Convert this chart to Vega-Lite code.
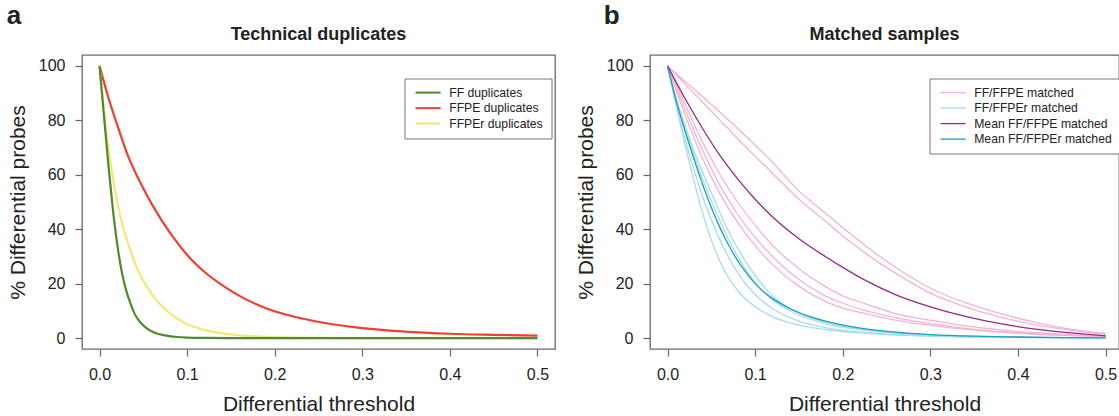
{
  "$schema": "https://vega.github.io/schema/vega-lite/v6.json",
  "padding": {"left": 6, "top": 3, "right": 0, "bottom": 0},
  "background": "white",
  "config": {
    "font": "Liberation Sans",
    "view": {"stroke": "#6b6b6b", "strokeWidth": 1.3},
    "axis": {"grid": false, "domain": false, "tickColor": "#666", "tickSize": 7, "tickWidth": 1.2, "labelFontSize": 16, "labelColor": "#222", "titleFontSize": 21, "titleFontWeight": "normal", "titleColor": "#222"},
    "axisX": {"labelPadding": 10, "titlePadding": 11},
    "axisY": {"labelPadding": 10, "titlePadding": 10},
    "title": {"fontSize": 18, "fontWeight": "bold", "color": "#222", "offset": 11},
    "legend": {"orient": "none", "labelFontSize": 12.2, "labelColor": "#222", "strokeColor": "#777", "fillColor": "#ffffff", "padding": 8, "symbolType": "M-2.5,0H2.5", "symbolSize": 100, "symbolOffset": 9.5, "labelOffset": 15, "rowPadding": 2.5}
  },
  "datasets": {
    "tech": [
      {"s": "FFPE duplicates", "x": 0, "y": 100}, {"s": "FFPE duplicates", "x": 0.01, "y": 88.5}, {"s": "FFPE duplicates", "x": 0.02, "y": 78.5}, {"s": "FFPE duplicates", "x": 0.0324, "y": 67}, {"s": "FFPE duplicates", "x": 0.05, "y": 55}, {"s": "FFPE duplicates", "x": 0.0704, "y": 43.5}, {"s": "FFPE duplicates", "x": 0.09, "y": 34.5}, {"s": "FFPE duplicates", "x": 0.105, "y": 28.8}, {"s": "FFPE duplicates", "x": 0.12, "y": 24.3}, {"s": "FFPE duplicates", "x": 0.143, "y": 18.8}, {"s": "FFPE duplicates", "x": 0.165, "y": 14.6}, {"s": "FFPE duplicates", "x": 0.19, "y": 11}, {"s": "FFPE duplicates", "x": 0.23, "y": 7.3}, {"s": "FFPE duplicates", "x": 0.268, "y": 5}, {"s": "FFPE duplicates", "x": 0.3, "y": 3.7}, {"s": "FFPE duplicates", "x": 0.345, "y": 2.5}, {"s": "FFPE duplicates", "x": 0.4, "y": 1.6}, {"s": "FFPE duplicates", "x": 0.45, "y": 1.2}, {"s": "FFPE duplicates", "x": 0.5, "y": 0.9},
      {"s": "FFPEr duplicates", "x": 0, "y": 100}, {"s": "FFPEr duplicates", "x": 0.004, "y": 86.5}, {"s": "FFPEr duplicates", "x": 0.008, "y": 75}, {"s": "FFPEr duplicates", "x": 0.012, "y": 65.5}, {"s": "FFPEr duplicates", "x": 0.016, "y": 57.5}, {"s": "FFPEr duplicates", "x": 0.02, "y": 50.5}, {"s": "FFPEr duplicates", "x": 0.0247, "y": 43.5}, {"s": "FFPEr duplicates", "x": 0.03, "y": 37.5}, {"s": "FFPEr duplicates", "x": 0.036, "y": 31.5}, {"s": "FFPEr duplicates", "x": 0.0437, "y": 25}, {"s": "FFPEr duplicates", "x": 0.052, "y": 20}, {"s": "FFPEr duplicates", "x": 0.06, "y": 16}, {"s": "FFPEr duplicates", "x": 0.0704, "y": 12}, {"s": "FFPEr duplicates", "x": 0.083, "y": 8.4}, {"s": "FFPEr duplicates", "x": 0.097, "y": 5.6}, {"s": "FFPEr duplicates", "x": 0.115, "y": 3.4}, {"s": "FFPEr duplicates", "x": 0.135, "y": 2}, {"s": "FFPEr duplicates", "x": 0.16, "y": 1}, {"s": "FFPEr duplicates", "x": 0.19, "y": 0.45}, {"s": "FFPEr duplicates", "x": 0.22, "y": 0.2}, {"s": "FFPEr duplicates", "x": 0.26, "y": 0.08}, {"s": "FFPEr duplicates", "x": 0.3, "y": 0.03}, {"s": "FFPEr duplicates", "x": 0.4, "y": 0.01}, {"s": "FFPEr duplicates", "x": 0.5, "y": 0},
      {"s": "FF duplicates", "x": 0, "y": 100}, {"s": "FF duplicates", "x": 0.005, "y": 82}, {"s": "FF duplicates", "x": 0.01, "y": 64}, {"s": "FF duplicates", "x": 0.015, "y": 48}, {"s": "FF duplicates", "x": 0.02, "y": 35}, {"s": "FF duplicates", "x": 0.025, "y": 25}, {"s": "FF duplicates", "x": 0.03, "y": 18}, {"s": "FF duplicates", "x": 0.035, "y": 13}, {"s": "FF duplicates", "x": 0.04, "y": 9}, {"s": "FF duplicates", "x": 0.046, "y": 6}, {"s": "FF duplicates", "x": 0.054, "y": 3.6}, {"s": "FF duplicates", "x": 0.063, "y": 2}, {"s": "FF duplicates", "x": 0.075, "y": 1}, {"s": "FF duplicates", "x": 0.089, "y": 0.4}, {"s": "FF duplicates", "x": 0.1, "y": 0.2}, {"s": "FF duplicates", "x": 0.12, "y": 0.08}, {"s": "FF duplicates", "x": 0.15, "y": 0.03}, {"s": "FF duplicates", "x": 0.2, "y": 0.01}, {"s": "FF duplicates", "x": 0.3, "y": 0}, {"s": "FF duplicates", "x": 0.5, "y": 0}
    ],
    "matched": [
      {"s": "FF/FFPE matched", "id": "p1", "x": 0, "y": 100}, {"s": "FF/FFPE matched", "id": "p1", "x": 0.03, "y": 91.5}, {"s": "FF/FFPE matched", "id": "p1", "x": 0.06, "y": 83}, {"s": "FF/FFPE matched", "id": "p1", "x": 0.09, "y": 74}, {"s": "FF/FFPE matched", "id": "p1", "x": 0.12, "y": 64.5}, {"s": "FF/FFPE matched", "id": "p1", "x": 0.15, "y": 54}, {"s": "FF/FFPE matched", "id": "p1", "x": 0.18, "y": 46}, {"s": "FF/FFPE matched", "id": "p1", "x": 0.21, "y": 38}, {"s": "FF/FFPE matched", "id": "p1", "x": 0.24, "y": 30.5}, {"s": "FF/FFPE matched", "id": "p1", "x": 0.27, "y": 24}, {"s": "FF/FFPE matched", "id": "p1", "x": 0.3, "y": 18.3}, {"s": "FF/FFPE matched", "id": "p1", "x": 0.34, "y": 13}, {"s": "FF/FFPE matched", "id": "p1", "x": 0.38, "y": 9}, {"s": "FF/FFPE matched", "id": "p1", "x": 0.42, "y": 5.8}, {"s": "FF/FFPE matched", "id": "p1", "x": 0.46, "y": 3.3}, {"s": "FF/FFPE matched", "id": "p1", "x": 0.5, "y": 1.7},
      {"s": "FF/FFPE matched", "id": "p2", "x": 0, "y": 100}, {"s": "FF/FFPE matched", "id": "p2", "x": 0.03, "y": 90}, {"s": "FF/FFPE matched", "id": "p2", "x": 0.06, "y": 80}, {"s": "FF/FFPE matched", "id": "p2", "x": 0.09, "y": 70}, {"s": "FF/FFPE matched", "id": "p2", "x": 0.12, "y": 60.5}, {"s": "FF/FFPE matched", "id": "p2", "x": 0.15, "y": 51}, {"s": "FF/FFPE matched", "id": "p2", "x": 0.18, "y": 43}, {"s": "FF/FFPE matched", "id": "p2", "x": 0.21, "y": 35}, {"s": "FF/FFPE matched", "id": "p2", "x": 0.24, "y": 28}, {"s": "FF/FFPE matched", "id": "p2", "x": 0.27, "y": 22}, {"s": "FF/FFPE matched", "id": "p2", "x": 0.3, "y": 16.5}, {"s": "FF/FFPE matched", "id": "p2", "x": 0.34, "y": 11.5}, {"s": "FF/FFPE matched", "id": "p2", "x": 0.38, "y": 7.7}, {"s": "FF/FFPE matched", "id": "p2", "x": 0.42, "y": 4.9}, {"s": "FF/FFPE matched", "id": "p2", "x": 0.46, "y": 2.9}, {"s": "FF/FFPE matched", "id": "p2", "x": 0.5, "y": 1.4},
      {"s": "FF/FFPE matched", "id": "p3", "x": 0, "y": 100}, {"s": "FF/FFPE matched", "id": "p3", "x": 0.02, "y": 86}, {"s": "FF/FFPE matched", "id": "p3", "x": 0.04, "y": 72}, {"s": "FF/FFPE matched", "id": "p3", "x": 0.06, "y": 60}, {"s": "FF/FFPE matched", "id": "p3", "x": 0.08, "y": 50}, {"s": "FF/FFPE matched", "id": "p3", "x": 0.1, "y": 41.5}, {"s": "FF/FFPE matched", "id": "p3", "x": 0.12, "y": 34}, {"s": "FF/FFPE matched", "id": "p3", "x": 0.15, "y": 25.5}, {"s": "FF/FFPE matched", "id": "p3", "x": 0.18, "y": 19}, {"s": "FF/FFPE matched", "id": "p3", "x": 0.2, "y": 15.5}, {"s": "FF/FFPE matched", "id": "p3", "x": 0.227, "y": 12.5}, {"s": "FF/FFPE matched", "id": "p3", "x": 0.26, "y": 9}, {"s": "FF/FFPE matched", "id": "p3", "x": 0.303, "y": 6.4}, {"s": "FF/FFPE matched", "id": "p3", "x": 0.34, "y": 4.5}, {"s": "FF/FFPE matched", "id": "p3", "x": 0.38, "y": 3}, {"s": "FF/FFPE matched", "id": "p3", "x": 0.42, "y": 2}, {"s": "FF/FFPE matched", "id": "p3", "x": 0.46, "y": 1.3}, {"s": "FF/FFPE matched", "id": "p3", "x": 0.5, "y": 0.8},
      {"s": "FF/FFPE matched", "id": "p4", "x": 0, "y": 100}, {"s": "FF/FFPE matched", "id": "p4", "x": 0.02, "y": 84}, {"s": "FF/FFPE matched", "id": "p4", "x": 0.04, "y": 69}, {"s": "FF/FFPE matched", "id": "p4", "x": 0.06, "y": 56}, {"s": "FF/FFPE matched", "id": "p4", "x": 0.08, "y": 45.5}, {"s": "FF/FFPE matched", "id": "p4", "x": 0.1, "y": 37}, {"s": "FF/FFPE matched", "id": "p4", "x": 0.12, "y": 30}, {"s": "FF/FFPE matched", "id": "p4", "x": 0.15, "y": 21.5}, {"s": "FF/FFPE matched", "id": "p4", "x": 0.18, "y": 15.5}, {"s": "FF/FFPE matched", "id": "p4", "x": 0.2, "y": 12.8}, {"s": "FF/FFPE matched", "id": "p4", "x": 0.227, "y": 10}, {"s": "FF/FFPE matched", "id": "p4", "x": 0.26, "y": 7.5}, {"s": "FF/FFPE matched", "id": "p4", "x": 0.303, "y": 5.2}, {"s": "FF/FFPE matched", "id": "p4", "x": 0.34, "y": 3.6}, {"s": "FF/FFPE matched", "id": "p4", "x": 0.38, "y": 2.4}, {"s": "FF/FFPE matched", "id": "p4", "x": 0.42, "y": 1.6}, {"s": "FF/FFPE matched", "id": "p4", "x": 0.46, "y": 1.1}, {"s": "FF/FFPE matched", "id": "p4", "x": 0.5, "y": 0.7},
      {"s": "FF/FFPE matched", "id": "p5", "x": 0, "y": 100}, {"s": "FF/FFPE matched", "id": "p5", "x": 0.02, "y": 82}, {"s": "FF/FFPE matched", "id": "p5", "x": 0.04, "y": 66}, {"s": "FF/FFPE matched", "id": "p5", "x": 0.06, "y": 53}, {"s": "FF/FFPE matched", "id": "p5", "x": 0.08, "y": 42.5}, {"s": "FF/FFPE matched", "id": "p5", "x": 0.1, "y": 34}, {"s": "FF/FFPE matched", "id": "p5", "x": 0.12, "y": 27}, {"s": "FF/FFPE matched", "id": "p5", "x": 0.15, "y": 19}, {"s": "FF/FFPE matched", "id": "p5", "x": 0.18, "y": 13.5}, {"s": "FF/FFPE matched", "id": "p5", "x": 0.2, "y": 11}, {"s": "FF/FFPE matched", "id": "p5", "x": 0.227, "y": 8.9}, {"s": "FF/FFPE matched", "id": "p5", "x": 0.26, "y": 6.6}, {"s": "FF/FFPE matched", "id": "p5", "x": 0.303, "y": 4.6}, {"s": "FF/FFPE matched", "id": "p5", "x": 0.34, "y": 3.2}, {"s": "FF/FFPE matched", "id": "p5", "x": 0.38, "y": 2.2}, {"s": "FF/FFPE matched", "id": "p5", "x": 0.42, "y": 1.4}, {"s": "FF/FFPE matched", "id": "p5", "x": 0.46, "y": 0.9}, {"s": "FF/FFPE matched", "id": "p5", "x": 0.5, "y": 0.6},
      {"s": "FF/FFPEr matched", "id": "b1", "x": 0, "y": 100}, {"s": "FF/FFPEr matched", "id": "b1", "x": 0.01, "y": 85}, {"s": "FF/FFPEr matched", "id": "b1", "x": 0.02, "y": 71}, {"s": "FF/FFPEr matched", "id": "b1", "x": 0.03, "y": 58}, {"s": "FF/FFPEr matched", "id": "b1", "x": 0.04, "y": 46}, {"s": "FF/FFPEr matched", "id": "b1", "x": 0.05, "y": 36}, {"s": "FF/FFPEr matched", "id": "b1", "x": 0.06, "y": 28}, {"s": "FF/FFPEr matched", "id": "b1", "x": 0.07, "y": 22}, {"s": "FF/FFPEr matched", "id": "b1", "x": 0.08, "y": 17.5}, {"s": "FF/FFPEr matched", "id": "b1", "x": 0.1, "y": 11.5}, {"s": "FF/FFPEr matched", "id": "b1", "x": 0.12, "y": 7.8}, {"s": "FF/FFPEr matched", "id": "b1", "x": 0.15, "y": 4.8}, {"s": "FF/FFPEr matched", "id": "b1", "x": 0.19, "y": 2.8}, {"s": "FF/FFPEr matched", "id": "b1", "x": 0.23, "y": 1.7}, {"s": "FF/FFPEr matched", "id": "b1", "x": 0.28, "y": 0.9}, {"s": "FF/FFPEr matched", "id": "b1", "x": 0.35, "y": 0.4}, {"s": "FF/FFPEr matched", "id": "b1", "x": 0.42, "y": 0.2}, {"s": "FF/FFPEr matched", "id": "b1", "x": 0.5, "y": 0.1},
      {"s": "FF/FFPEr matched", "id": "b2", "x": 0, "y": 100}, {"s": "FF/FFPEr matched", "id": "b2", "x": 0.01, "y": 85.5}, {"s": "FF/FFPEr matched", "id": "b2", "x": 0.02, "y": 73}, {"s": "FF/FFPEr matched", "id": "b2", "x": 0.03, "y": 62}, {"s": "FF/FFPEr matched", "id": "b2", "x": 0.04, "y": 52}, {"s": "FF/FFPEr matched", "id": "b2", "x": 0.05, "y": 43.5}, {"s": "FF/FFPEr matched", "id": "b2", "x": 0.06, "y": 36}, {"s": "FF/FFPEr matched", "id": "b2", "x": 0.07, "y": 29.5}, {"s": "FF/FFPEr matched", "id": "b2", "x": 0.08, "y": 24}, {"s": "FF/FFPEr matched", "id": "b2", "x": 0.1, "y": 16}, {"s": "FF/FFPEr matched", "id": "b2", "x": 0.12, "y": 10.8}, {"s": "FF/FFPEr matched", "id": "b2", "x": 0.15, "y": 6.2}, {"s": "FF/FFPEr matched", "id": "b2", "x": 0.19, "y": 3.3}, {"s": "FF/FFPEr matched", "id": "b2", "x": 0.23, "y": 1.9}, {"s": "FF/FFPEr matched", "id": "b2", "x": 0.28, "y": 1}, {"s": "FF/FFPEr matched", "id": "b2", "x": 0.35, "y": 0.45}, {"s": "FF/FFPEr matched", "id": "b2", "x": 0.42, "y": 0.2}, {"s": "FF/FFPEr matched", "id": "b2", "x": 0.5, "y": 0.1},
      {"s": "FF/FFPEr matched", "id": "b3", "x": 0, "y": 100}, {"s": "FF/FFPEr matched", "id": "b3", "x": 0.01, "y": 87.5}, {"s": "FF/FFPEr matched", "id": "b3", "x": 0.02, "y": 77}, {"s": "FF/FFPEr matched", "id": "b3", "x": 0.03, "y": 67.5}, {"s": "FF/FFPEr matched", "id": "b3", "x": 0.04, "y": 58.5}, {"s": "FF/FFPEr matched", "id": "b3", "x": 0.05, "y": 50.5}, {"s": "FF/FFPEr matched", "id": "b3", "x": 0.06, "y": 43}, {"s": "FF/FFPEr matched", "id": "b3", "x": 0.07, "y": 36}, {"s": "FF/FFPEr matched", "id": "b3", "x": 0.08, "y": 30}, {"s": "FF/FFPEr matched", "id": "b3", "x": 0.1, "y": 20.5}, {"s": "FF/FFPEr matched", "id": "b3", "x": 0.12, "y": 14}, {"s": "FF/FFPEr matched", "id": "b3", "x": 0.15, "y": 8.5}, {"s": "FF/FFPEr matched", "id": "b3", "x": 0.19, "y": 4.6}, {"s": "FF/FFPEr matched", "id": "b3", "x": 0.23, "y": 2.7}, {"s": "FF/FFPEr matched", "id": "b3", "x": 0.28, "y": 1.4}, {"s": "FF/FFPEr matched", "id": "b3", "x": 0.35, "y": 0.6}, {"s": "FF/FFPEr matched", "id": "b3", "x": 0.42, "y": 0.25}, {"s": "FF/FFPEr matched", "id": "b3", "x": 0.5, "y": 0.1},
      {"s": "FF/FFPEr matched", "id": "b4", "x": 0, "y": 100}, {"s": "FF/FFPEr matched", "id": "b4", "x": 0.01, "y": 88}, {"s": "FF/FFPEr matched", "id": "b4", "x": 0.02, "y": 78}, {"s": "FF/FFPEr matched", "id": "b4", "x": 0.03, "y": 69}, {"s": "FF/FFPEr matched", "id": "b4", "x": 0.04, "y": 61}, {"s": "FF/FFPEr matched", "id": "b4", "x": 0.05, "y": 53.5}, {"s": "FF/FFPEr matched", "id": "b4", "x": 0.06, "y": 46}, {"s": "FF/FFPEr matched", "id": "b4", "x": 0.07, "y": 39}, {"s": "FF/FFPEr matched", "id": "b4", "x": 0.08, "y": 33}, {"s": "FF/FFPEr matched", "id": "b4", "x": 0.1, "y": 23}, {"s": "FF/FFPEr matched", "id": "b4", "x": 0.12, "y": 15.5}, {"s": "FF/FFPEr matched", "id": "b4", "x": 0.15, "y": 9.2}, {"s": "FF/FFPEr matched", "id": "b4", "x": 0.19, "y": 5}, {"s": "FF/FFPEr matched", "id": "b4", "x": 0.23, "y": 2.8}, {"s": "FF/FFPEr matched", "id": "b4", "x": 0.28, "y": 1.4}, {"s": "FF/FFPEr matched", "id": "b4", "x": 0.35, "y": 0.6}, {"s": "FF/FFPEr matched", "id": "b4", "x": 0.42, "y": 0.25}, {"s": "FF/FFPEr matched", "id": "b4", "x": 0.5, "y": 0.1},
      {"s": "Mean FF/FFPE matched", "id": "m1", "x": 0, "y": 100}, {"s": "Mean FF/FFPE matched", "id": "m1", "x": 0.02, "y": 88}, {"s": "Mean FF/FFPE matched", "id": "m1", "x": 0.04, "y": 77}, {"s": "Mean FF/FFPE matched", "id": "m1", "x": 0.06, "y": 67}, {"s": "Mean FF/FFPE matched", "id": "m1", "x": 0.08, "y": 58.5}, {"s": "Mean FF/FFPE matched", "id": "m1", "x": 0.1, "y": 51}, {"s": "Mean FF/FFPE matched", "id": "m1", "x": 0.12, "y": 44.5}, {"s": "Mean FF/FFPE matched", "id": "m1", "x": 0.15, "y": 36.5}, {"s": "Mean FF/FFPE matched", "id": "m1", "x": 0.18, "y": 30}, {"s": "Mean FF/FFPE matched", "id": "m1", "x": 0.2, "y": 26}, {"s": "Mean FF/FFPE matched", "id": "m1", "x": 0.227, "y": 21}, {"s": "Mean FF/FFPE matched", "id": "m1", "x": 0.26, "y": 16}, {"s": "Mean FF/FFPE matched", "id": "m1", "x": 0.3, "y": 11.5}, {"s": "Mean FF/FFPE matched", "id": "m1", "x": 0.34, "y": 8}, {"s": "Mean FF/FFPE matched", "id": "m1", "x": 0.38, "y": 5.3}, {"s": "Mean FF/FFPE matched", "id": "m1", "x": 0.42, "y": 3.3}, {"s": "Mean FF/FFPE matched", "id": "m1", "x": 0.46, "y": 1.9}, {"s": "Mean FF/FFPE matched", "id": "m1", "x": 0.5, "y": 0.8},
      {"s": "Mean FF/FFPEr matched", "id": "m2", "x": 0, "y": 100}, {"s": "Mean FF/FFPEr matched", "id": "m2", "x": 0.01, "y": 87}, {"s": "Mean FF/FFPEr matched", "id": "m2", "x": 0.02, "y": 76}, {"s": "Mean FF/FFPEr matched", "id": "m2", "x": 0.03, "y": 66}, {"s": "Mean FF/FFPEr matched", "id": "m2", "x": 0.04, "y": 56.5}, {"s": "Mean FF/FFPEr matched", "id": "m2", "x": 0.05, "y": 48}, {"s": "Mean FF/FFPEr matched", "id": "m2", "x": 0.06, "y": 40.5}, {"s": "Mean FF/FFPEr matched", "id": "m2", "x": 0.07, "y": 34}, {"s": "Mean FF/FFPEr matched", "id": "m2", "x": 0.08, "y": 28.5}, {"s": "Mean FF/FFPEr matched", "id": "m2", "x": 0.09, "y": 24}, {"s": "Mean FF/FFPEr matched", "id": "m2", "x": 0.1, "y": 20}, {"s": "Mean FF/FFPEr matched", "id": "m2", "x": 0.12, "y": 14.5}, {"s": "Mean FF/FFPEr matched", "id": "m2", "x": 0.14, "y": 10.8}, {"s": "Mean FF/FFPEr matched", "id": "m2", "x": 0.16, "y": 8.2}, {"s": "Mean FF/FFPEr matched", "id": "m2", "x": 0.19, "y": 5.5}, {"s": "Mean FF/FFPEr matched", "id": "m2", "x": 0.22, "y": 3.7}, {"s": "Mean FF/FFPEr matched", "id": "m2", "x": 0.26, "y": 2.2}, {"s": "Mean FF/FFPEr matched", "id": "m2", "x": 0.3, "y": 1.3}, {"s": "Mean FF/FFPEr matched", "id": "m2", "x": 0.35, "y": 0.7}, {"s": "Mean FF/FFPEr matched", "id": "m2", "x": 0.4, "y": 0.4}, {"s": "Mean FF/FFPEr matched", "id": "m2", "x": 0.45, "y": 0.2}, {"s": "Mean FF/FFPEr matched", "id": "m2", "x": 0.5, "y": 0.1}
    ]
  },
  "spacing": 18,
  "resolve": {"scale": {"color": "independent", "strokeWidth": "independent"}, "legend": {"color": "independent", "strokeWidth": "independent"}},
  "hconcat": [
    {
      "title": {"text": "a", "anchor": "start", "fontSize": 26, "fontWeight": "bold", "offset": -4, "color": "#222"},
      "vconcat": [
        {
          "width": 473,
          "height": 294,
          "title": "Technical duplicates",
          "data": {"name": "tech"},
          "mark": {"type": "line", "strokeWidth": 2.2, "interpolate": "monotone"},
          "encoding": {
            "x": {"field": "x", "type": "quantitative", "scale": {"domain": [-0.02, 0.52], "nice": false, "zero": false}, "axis": {"values": [0, 0.1, 0.2, 0.3, 0.4, 0.5], "format": ".1f", "title": "Differential threshold"}},
            "y": {"field": "y", "type": "quantitative", "scale": {"domain": [-4, 104], "nice": false, "zero": false}, "axis": {"values": [0, 20, 40, 60, 80, 100], "title": "% Differential probes"}},
            "color": {"field": "s", "type": "nominal", "sort": null, "scale": {"domain": ["FF duplicates", "FFPE duplicates", "FFPEr duplicates"], "range": ["#4f8a2b", "#ee3f2f", "#f0e878"]}, "legend": {"title": null, "legendX": 322.5, "legendY": 23.5, "symbolStrokeWidth": 2}}
          }
        }
      ]
    },
    {
      "title": {"text": "b", "anchor": "start", "fontSize": 26, "fontWeight": "bold", "offset": -4, "color": "#222", "dx": 29},
      "vconcat": [
        {
          "width": 469,
          "height": 294,
          "title": "Matched samples",
          "data": {"name": "matched"},
          "encoding": {
            "x": {"field": "x", "type": "quantitative", "scale": {"domain": [-0.02, 0.5153], "nice": false, "zero": false}, "axis": {"values": [0, 0.1, 0.2, 0.3, 0.4, 0.5], "format": ".1f", "title": "Differential threshold"}},
            "y": {"field": "y", "type": "quantitative", "scale": {"domain": [-4, 104], "nice": false, "zero": false}, "axis": {"values": [0, 20, 40, 60, 80, 100], "title": "% Differential probes"}},
            "color": {"field": "s", "type": "nominal", "scale": {"domain": ["FF/FFPE matched", "FF/FFPEr matched", "Mean FF/FFPE matched", "Mean FF/FFPEr matched"], "range": ["#f3b3d3", "#a9dcea", "#932a8a", "#179fc6"]}, "legend": {"title": null, "legendX": 279.5, "legendY": 23.5}},
            "strokeWidth": {"field": "s", "type": "nominal", "scale": {"domain": ["FF/FFPE matched", "FF/FFPEr matched", "Mean FF/FFPE matched", "Mean FF/FFPEr matched"], "range": [1.3, 1.3, 3, 3]}, "legend": {"title": null, "legendX": 279.5, "legendY": 23.5}},
            "detail": {"field": "id", "type": "nominal"}
          },
          "layer": [
            {"transform": [{"filter": {"field": "s", "oneOf": ["FF/FFPE matched", "FF/FFPEr matched"]}}], "mark": {"type": "line", "interpolate": "monotone"}},
            {"transform": [{"filter": {"field": "s", "oneOf": ["Mean FF/FFPE matched", "Mean FF/FFPEr matched"]}}], "mark": {"type": "line", "interpolate": "monotone"}}
          ]
        }
      ]
    }
  ]
}
